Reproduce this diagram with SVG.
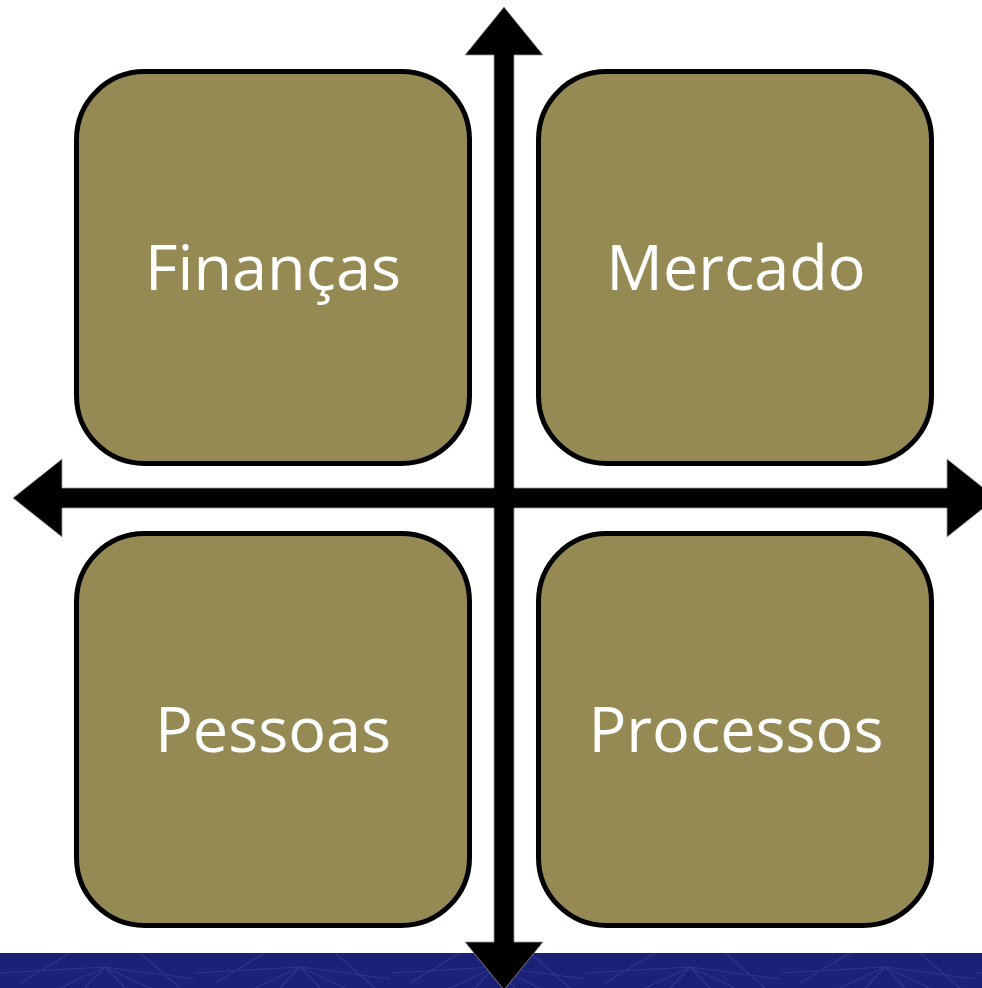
<svg xmlns="http://www.w3.org/2000/svg" width="982" height="988" viewBox="0 0 982 988">
<defs>
<style>
.box{fill:#968a54;stroke:#000;stroke-width:5}
.lbl{fill:#fff;font-family:"Open Sans","Noto Sans",sans-serif;font-size:63px;text-anchor:middle}
.arr{fill:#000;stroke:#9a9a9a;stroke-width:0.8}
.pl{stroke:#3d48a0;stroke-width:1.2;fill:none;opacity:0.5}
</style>
<pattern id="gem" x="0" y="953" width="195" height="35" patternUnits="userSpaceOnUse">
<path class="pl" d="M0 20 L105 14 M105 14 L195 26 M105 14 L60 35 M105 14 L150 35 M105 14 L125 35 M105 14 L85 35 M20 30 L70 0 M140 0 L180 35"/>
</pattern>
</defs>
<rect x="0" y="0" width="982" height="988" fill="#fff"/>
<rect id="band" x="0" y="953" width="982" height="35" fill="#1a2177"/>
<rect x="0" y="953" width="982" height="35" fill="url(#gem)"/>
<g id="financas">
<rect class="box" x="76.5" y="71.5" width="393" height="392" rx="68"/>
<text class="lbl" x="273" y="290">Finanças</text>
</g>
<g id="mercado">
<rect class="box" x="538.5" y="71.5" width="393" height="392" rx="68"/>
<text class="lbl" x="736" y="290">Mercado</text>
</g>
<g id="pessoas">
<rect class="box" x="76.5" y="533.5" width="393" height="392" rx="68"/>
<text class="lbl" x="273" y="752">Pessoas</text>
</g>
<g id="processos">
<rect class="box" x="538.5" y="533.5" width="393" height="392" rx="68"/>
<text class="lbl" x="736" y="752">Processos</text>
</g>
<g id="connectors">
<path class="arr" d="M504 7 L543 55 L514 55 L514 488 L947 488 L947 459 L996 498 L947 537 L947 508 L514 508 L514 942 L543 942 L504 990 L465 942 L494 942 L494 508 L62 508 L62 537 L13 498 L62 459 L62 488 L494 488 L494 55 L465 55 Z"/>
</g>
</svg>
